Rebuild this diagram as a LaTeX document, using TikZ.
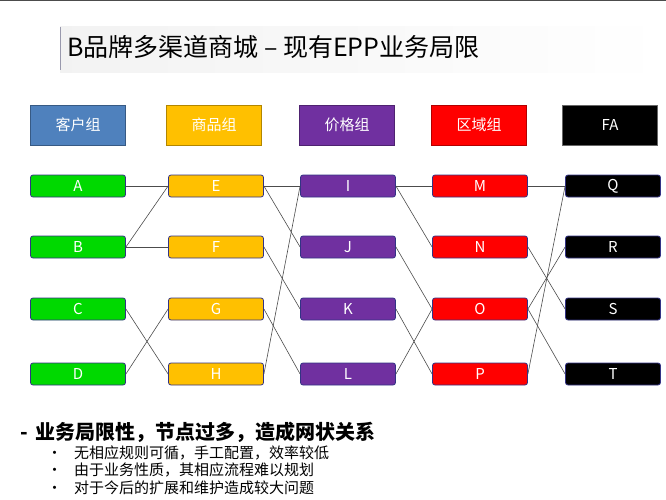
\documentclass[tikz,border=0pt]{standalone}
\usepackage{fontspec}
\setmainfont{Noto Sans CJK SC}
\begin{document}
\begin{tikzpicture}[x=1pt,y=-1pt,
 hdr/.style={draw=#1!70!black,line width=0.8pt,fill=#1,minimum width=95pt,minimum height=40pt,inner sep=0pt,font=\fontsize{15}{15}\selectfont},
 itm/.style={draw=blue!40!black!80,line width=0.8pt,rounded corners=2.5pt,fill=#1,minimum width=95pt,minimum height=22pt,inner sep=0pt,text=white,font=\fontsize{15}{15}\selectfont},
 ln/.style={draw=black!70,line width=0.6pt}]
\useasboundingbox (0,0) rectangle (666,500);
\fill[white] (0,0) rectangle (666,500);
\fill[black!70] (0,0) rectangle (666,1.2);
\shade[left color=white!95!black,right color=white] (60,27) rectangle (666,73);
\draw[blue!20!black!40,line width=1pt] (60.5,27) -- (60.5,70);
\node[anchor=west,inner sep=0pt,font=\fontsize{25}{25}\selectfont] (title) at (67,47) {B品牌多渠道商城 – 现有EPP业务局限};
\definecolor{cblue}{HTML}{4F81BD}\definecolor{cyel}{HTML}{FFC000}\definecolor{cpur}{HTML}{7030A0}
\node[hdr=cblue,text=white] (h1) at (78,125) {客户组};
\node[hdr=cyel,text=white] (h2) at (214,125) {商品组};
\node[hdr=cpur,text=white] (h3) at (347,125) {价格组};
\node[hdr=red,text=white] (h4) at (479,125) {区域组};
\node[hdr=black,text=white,draw=black!60] (h5) at (610,125) {FA};
\def\ya{186}\def\yb{247}\def\yc{309}\def\yd{374}
\foreach \n/\y in {A/\ya,B/\yb,C/\yc,D/\yd}{\node[itm=green!85!black] (\n) at (78,\y) {\n};}
\foreach \n/\y in {E/\ya,F/\yb,G/\yc,H/\yd}{\node[itm=cyel] (\n) at (216,\y) {\n};}
\foreach \n/\y in {I/\ya,J/\yb,K/\yc,L/\yd}{\node[itm=cpur] (\n) at (348,\y) {\n};}
\foreach \n/\y in {M/\ya,N/\yb,O/\yc,P/\yd}{\node[itm=red] (\n) at (480,\y) {\n};}
\foreach \n/\y in {Q/\ya,R/\yb,S/\yc,T/\yd}{\node[itm=black] (\n) at (613,\y) {\n};}
\foreach \a/\b in {A/E,B/E,B/F,C/H,D/G,E/I,E/J,F/K,G/L,H/I,I/M,I/N,J/O,K/P,L/O,M/Q,N/S,O/R,O/T,P/Q}
 {\draw[ln] (\a.east) -- (\b.west);}
\node[anchor=west,inner sep=0pt,font=\fontsize{20}{20}\selectfont\bfseries] (t0) at (20,432) {-\hspace{8pt}业务局限性，节点过多，造成网状关系};
\foreach \t/\y [count=\i] in {无相应规则可循，手工配置，效率较低/453,由于业务性质，其相应流程难以规划/470,对于今后的扩展和维护造成较大问题/488}{
 \node[anchor=west,inner sep=0pt,font=\fontsize{15}{15}\selectfont] (b\i) at (47,\y) {•\hspace{12pt}\t};}
\end{tikzpicture}
\end{document}
